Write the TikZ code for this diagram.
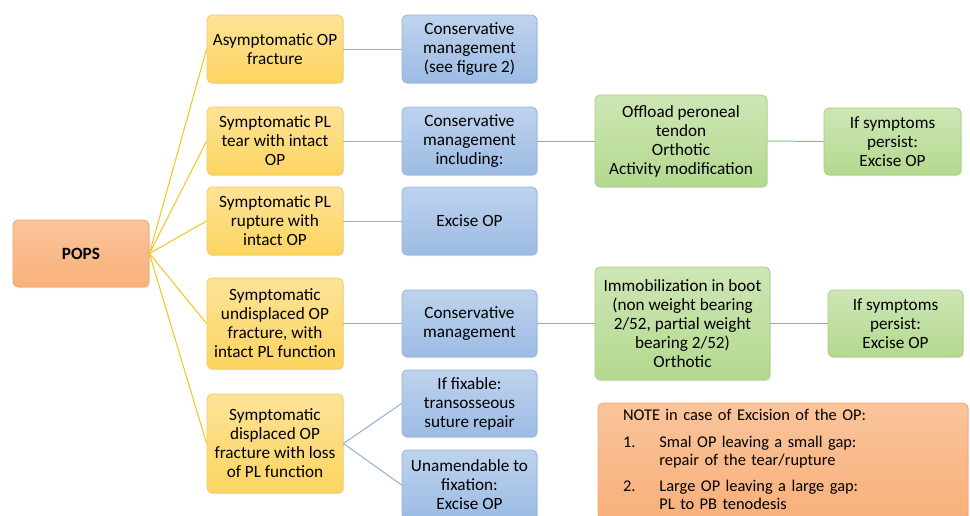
\documentclass[tikz,border=0pt]{standalone}
\usepackage{fontspec}
\setmainfont{Carlito}
\usetikzlibrary{shadows}
\definecolor{popsfill}{HTML}{F8B07A}
\definecolor{popsline}{HTML}{F3A873}
\definecolor{yfill}{HTML}{FCD460}
\definecolor{yline}{HTML}{F4CC5C}
\definecolor{bfill}{HTML}{9CBBE4}
\definecolor{bline}{HTML}{94B5DF}
\definecolor{gfill}{HTML}{B3D98E}
\definecolor{gline}{HTML}{A8D17F}
\definecolor{ylink}{HTML}{F5C518}
\definecolor{blink}{HTML}{8DB0DC}
\definecolor{glink}{HTML}{8CC063}
\begin{document}
\begin{tikzpicture}
        [
           x=1pt, y=-1pt,
           every node/.style={rectangle,rounded corners=5pt,align=center,inner sep=0pt,
             font=\fontsize{17.2}{19}\selectfont,
             drop shadow={opacity=0.2,shadow xshift=1.2pt,shadow yshift=-1.2pt}},
           popsbox/.style={draw=popsline,top color=popsfill!75!white,bottom color=popsfill,line width=0.8pt},
           ybox/.style={draw=yline,top color=yfill!65!white,bottom color=yfill,line width=0.8pt,minimum width=136pt},
           bbox/.style={draw=bline,top color=bfill!65!white,bottom color=bfill,line width=0.8pt,minimum width=135pt},
           gbox/.style={draw=gline,top color=gfill!65!white,bottom color=gfill,line width=0.8pt},
           ylinkline/.style={draw=ylink,line width=1pt},
           blinkline/.style={draw=blink,line width=1pt},
           glinkline/.style={draw=glink,line width=1pt}
        ]
        \clip (0,0) rectangle (970,515);
        % root
        \node[popsbox,minimum width=136pt,minimum height=67pt,font=\fontsize{17.2}{19}\selectfont\bfseries] (pops) at (81,253.5) {POPS};
        % first column
        \node[ybox,minimum height=68pt] (asym) at (275,49) {Asymptomatic OP\\fracture};
        \node[ybox,minimum height=68pt] (tear) at (275,141) {Symptomatic PL\\tear with intact\\OP};
        \node[ybox,minimum height=68pt] (rupt) at (275,221) {Symptomatic PL\\rupture with\\intact OP};
        \node[ybox,minimum height=91pt] (undisp) at (275,323.5) {Symptomatic\\undisplaced OP\\fracture, with\\intact PL function};
        \node[ybox,minimum height=99pt] (disp) at (275,443.5) {Symptomatic\\displaced OP\\fracture with loss\\of PL function};
        % second column
        \node[bbox,minimum height=68pt] (consA) at (469.5,49) {Conservative\\management\\(see figure 2)};
        \node[bbox,minimum height=68pt] (consB) at (469.5,141) {Conservative\\management\\including:};
        \node[bbox,minimum height=68pt] (excA) at (469.5,221) {Excise OP};
        \node[bbox,minimum height=67pt] (consC) at (469.5,323.5) {Conservative\\management};
        \node[bbox,minimum height=67pt] (fix) at (469.5,403.5) {If fixable:\\transosseous\\suture repair};
        \node[bbox,minimum height=70pt] (unam) at (469.5,485) {Unamendable to\\fixation:\\Excise OP};
        % third and fourth column
        \node[gbox,minimum width=172pt,minimum height=92pt] (offload) at (681,141) {Offload peroneal\\tendon\\Orthotic\\Activity modification};
        \node[gbox,minimum width=137pt,minimum height=67pt] (persistA) at (892.5,141.5) {If symptoms\\persist:\\Excise OP};
        \node[gbox,minimum width=175pt,minimum height=113pt] (immob) at (682.5,323.5) {Immobilization in boot\\(non weight bearing\\2/52, partial weight\\bearing 2/52)\\Orthotic};
        \node[gbox,minimum width=135pt,minimum height=67pt] (persistB) at (895.5,323.5) {If symptoms\\persist:\\Excise OP};
        % note
        \node[popsbox,minimum width=370pt,minimum height=117pt,text width=320pt,align=left,
              font=\fontsize{16.4}{18.5}\selectfont] (note) at (783,461.5)
          {\begin{tabular}{@{}l@{\hspace{24pt}}l@{}}
             \multicolumn{2}{@{}l}{NOTE in case of Excision of the OP:}\\[8pt]
             1. & Smal OP leaving a small gap:\\
                & repair of the tear/rupture\\[7pt]
             2. & Large OP leaving a large gap:\\
                & PL to PB tenodesis
           \end{tabular}};
        % connectors
        \foreach \n in {asym,tear,rupt,undisp,disp}
          \draw[ylinkline] (pops.east) -- (\n.west);
        \foreach \a/\b in {asym/consA,tear/consB,rupt/excA,undisp/consC,disp/fix,disp/unam}
          \draw[blinkline] (\a.east) -- (\b.west);
        \foreach \a/\b in {consB/offload,offload/persistA,consC/immob,immob/persistB}
          \draw[glinkline] (\a.east) -- (\b.west);
    \end{tikzpicture}
\end{document}
